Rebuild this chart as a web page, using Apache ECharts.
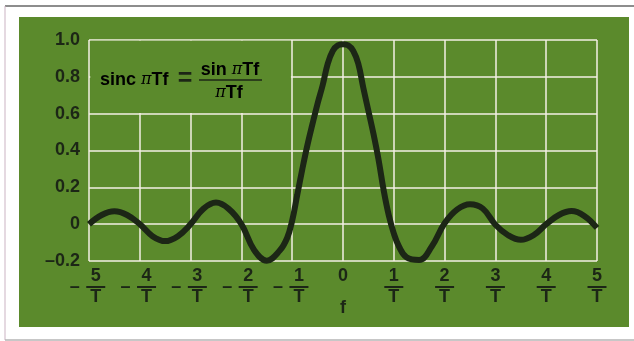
<!DOCTYPE html>
<html>
<head>
<meta charset="utf-8">
<script src="https://cdn.jsdelivr.net/npm/echarts@6/dist/echarts.min.js"></script>
<style>
  html, body { margin: 0; padding: 0; background: #fff; }
  #chart { width: 634px; height: 341px; }
</style>
</head>
<body>
<div id="chart"></div>
<script>
// f in units of 1/T
const freq = [-5, -4.75, -4.5, -4.25, -4, -3.75, -3.5, -3.25, -3, -2.75, -2.5, -2.25, -2,
  -1.75, -1.5, -1.25, -1.1, -1.0, -0.9, -0.8, -0.7, -0.6, -0.5, -0.4, -0.3, -0.2, -0.1, 0,
  0.1, 0.2, 0.3, 0.4, 0.5, 0.6, 0.7, 0.8, 0.9, 1.0, 1.1, 1.25, 1.5, 1.75, 2, 2.25, 2.5, 2.75,
  3, 3.25, 3.5, 3.75, 4, 4.25, 4.5, 4.75, 5]
const sincVals = [0, 0.05, 0.07, 0.05, 0, -0.065, -0.092, -0.065, 0, 0.083, 0.117, 0.083, 0,
  -0.14, -0.198, -0.145, -0.075, 0.02, 0.16, 0.3, 0.43, 0.545, 0.655, 0.755, 0.872, 0.942, 0.971, 0.977,
  0.971, 0.942, 0.872, 0.74, 0.615, 0.49, 0.35, 0.185, 0.05, -0.05, -0.12, -0.18, -0.195, -0.12, 0.005,
  0.08, 0.108, 0.085, -0.003, -0.06, -0.085, -0.06, 0, 0.05, 0.071, 0.045, -0.02]
const xNumerators = ['5', '4', '3', '2', '1', '0', '1', '2', '3', '4', '5']
const yTickLabels = ['–0.2', '0', '0.2', '0.4', '0.6', '0.8', '1.0']
// grid cell left clear for the formula: [f, value] corners
const formulaBox = [[-5, 0.6], [-1, 1.0]]

const GREEN = '#5b8a2c'
const GRID = '#f3efe4'
const INK = '#1c2616'
const FONT = '"Liberation Sans", Arial, sans-serif'

const chart = echarts.init(document.getElementById('chart'))

const numStyle = { fontFamily: FONT, fontWeight: 'bold', fontSize: 18, color: INK, lineHeight: 17, width: 19, align: 'center' }
const sym = { fontFamily: FONT, fontWeight: 'bold', fontSize: 18, color: INK }
const piStyle = { fontFamily: '"DejaVu Serif", serif', fontStyle: 'italic', fontSize: 16, color: INK }

const option = {
  backgroundColor: '#fff',
  animation: false,
  grid: { left: 89, right: 37, top: 40, bottom: 80, containLabel: false },
  xAxis: {
    type: 'value',
    min: -5,
    max: 5,
    interval: 1,
    name: 'f',
    nameLocation: 'middle',
    nameGap: 38,
    nameMoveOverlap: false,
    nameTextStyle: { fontFamily: FONT, fontWeight: 'bold', fontSize: 18, color: INK },
    axisLine: { show: false },
    axisTick: { show: false },
    splitLine: { lineStyle: { color: GRID, width: 1.5 } },
    axisLabel: {
      margin: 7,
      formatter: (v) => {
        const n = xNumerators[Math.round(v) + 5]
        if (v === 0) return '{num|' + n + '}'
        if (v > 0) return '{num|' + n + '}\n{bar|}\n{num|T}'
        return '{pad|}{num|' + n + '}{rp|}\n{minus|–}{sp|}{bar|}{rp|}\n{pad|}{num|T}{rp|}'
      },
      rich: {
        num: numStyle,
        bar: { width: 19, height: 2, lineHeight: 4, backgroundColor: INK },
        minus: { fontFamily: FONT, fontWeight: 'bold', fontSize: 18, color: INK, width: 12, lineHeight: 4, align: 'center' },
        sp: { width: 5.5, height: 2, lineHeight: 4 },
        pad: { width: 17.5, lineHeight: 17 },
        rp: { width: 4, lineHeight: 4 }
      }
    }
  },
  yAxis: {
    type: 'value',
    min: -0.2,
    max: 1.0,
    interval: 0.2,
    axisLine: { show: false },
    axisTick: { show: false },
    splitLine: { lineStyle: { color: GRID, width: 1.5 } },
    axisLabel: {
      margin: 9,
      fontFamily: FONT,
      fontWeight: 'bold',
      fontSize: 18,
      color: INK,
      formatter: (v) => yTickLabels[Math.round((v + 0.2) / 0.2)]
    }
  },
  graphic: [
    { type: 'rect', z: -10, silent: true, shape: { x: 19, y: 17, width: 610, height: 310 }, style: { fill: GREEN } },
    { type: 'line', silent: true, shape: { x1: 5, y1: 6, x2: 634, y2: 6 }, style: { stroke: '#8d8d8d', lineWidth: 2 } },
    { type: 'line', silent: true, shape: { x1: 5, y1: 6, x2: 5, y2: 340 }, style: { stroke: '#cbb3c3', lineWidth: 1 } },
    { type: 'line', silent: true, shape: { x1: 5, y1: 340, x2: 634, y2: 340 }, style: { stroke: '#b5b5b5', lineWidth: 1.5 } },
    {
      type: 'text', x: 100, y: 80, z: 100, silent: true,
      style: { text: '{s|sinc }{p|π}{s|Tf}', rich: { s: sym, p: piStyle }, align: 'left', verticalAlign: 'middle' }
    },
    {
      type: 'text', x: 185, y: 79, z: 100, silent: true,
      style: { text: '=', font: 'bold 25px ' + FONT, fill: INK, align: 'center', verticalAlign: 'middle' }
    },
    {
      type: 'text', x: 230, y: 70, z: 100, silent: true,
      style: { text: '{s|sin }{p|π}{s|Tf}', rich: { s: sym, p: piStyle }, align: 'center', verticalAlign: 'middle' }
    },
    { type: 'line', z: 100, silent: true, shape: { x1: 199, y1: 80, x2: 262, y2: 80 }, style: { stroke: INK, lineWidth: 1.5 } },
    {
      type: 'text', x: 229, y: 93, z: 100, silent: true,
      style: { text: '{p|π}{s|Tf}', rich: { s: sym, p: piStyle }, align: 'center', verticalAlign: 'middle' }
    }
  ],
  series: [
    {
      type: 'line',
      data: freq.map((f, i) => [f, sincVals[i]]),
      smooth: 0.4,
      showSymbol: false,
      lineStyle: { color: INK, width: 6 },
      silent: true,
      z: 5,
      markArea: {
        silent: true,
        itemStyle: { color: GREEN },
        label: { show: false },
        data: [[
          { coord: [formulaBox[0][0] + 0.025, formulaBox[0][1] + 0.004] },
          { coord: [formulaBox[1][0] - 0.025, formulaBox[1][1] - 0.004] }
        ]]
      }
    }
  ]
}

chart.setOption(option)
</script>
</body>
</html>
